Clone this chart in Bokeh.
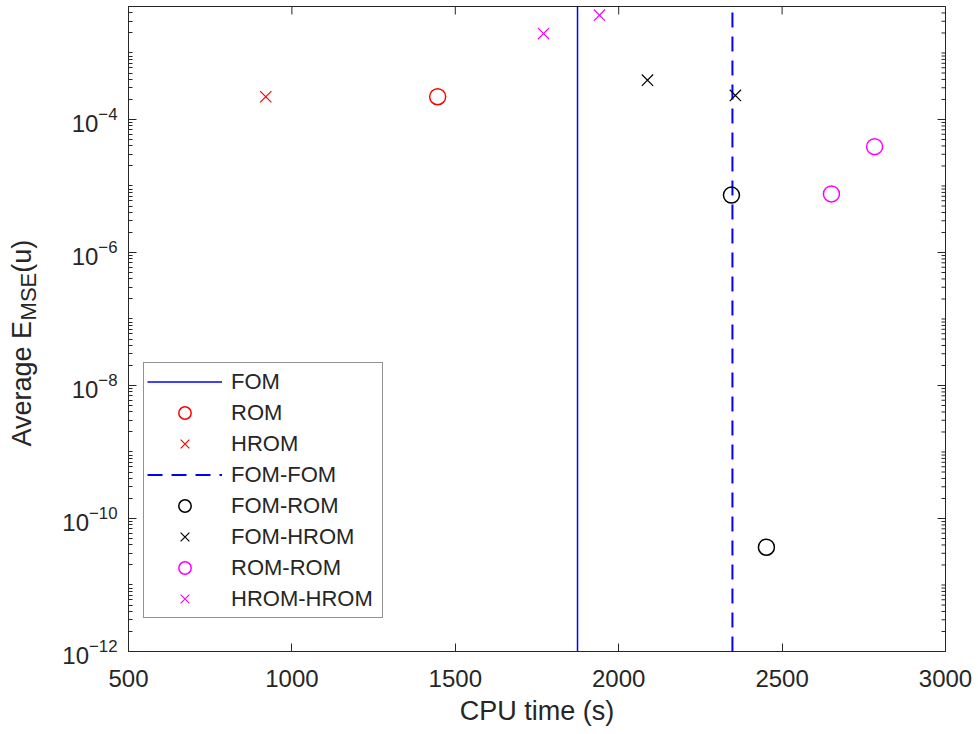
import math

from bokeh.plotting import figure
from bokeh.layouts import row
from bokeh.models import Range1d, FixedTicker, Legend, LegendItem
from bokeh.core.properties import value
from bokeh.embed import file_html
from bokeh.resources import INLINE

# ---- data: CPU time (s) vs. average MSE of u ----
fom_time = [1874]
fom_fom_time = [2348]

rom_time = [1446]
rom_err = [2.2e-4]

hrom_time = [920]
hrom_err = [2.2e-4]

fom_rom_time = [2345, 2452]
fom_rom_err = [7.3e-6, 3.7e-11]

fom_hrom_time = [2088, 2357]
fom_hrom_err = [3.9e-4, 2.3e-4]

rom_rom_time = [2651, 2783]
rom_rom_err = [7.6e-6, 3.9e-5]

hrom_hrom_time = [1770, 1941]
hrom_hrom_err = [1.96e-3, 3.7e-3]

x_ticks = [500, 1000, 1500, 2000, 2500, 3000]
y_major_exponents = [-12, -10, -8, -6, -4]
x_limits = (500, 3000)
y_limits = (1e-12, 5e-3)

ylabel_parts = ["Average E", "MSE", "(u)"]

INK = "#262626"
FONT = "Liberation Sans"
H = 734
TITLE_W = 44

# ---- narrow strip holding the rotated y-axis title (with subscript) ----
t = figure(frame_width=TITLE_W, frame_height=H, title=None,
           x_range=Range1d(0, TITLE_W), y_range=Range1d(0, H),
           output_backend="svg", toolbar_location=None,
           x_axis_location=None, y_axis_location=None,
           min_border=0, min_border_left=0, min_border_right=0,
           min_border_top=0, min_border_bottom=0)
t.grid.visible = False
t.outline_line_color = None
t.background_fill_color = "white"
t.border_fill_color = "white"

part_size = {"Average E": 27, "MSE": 22, "(u)": 27}
part_em = {"Average E": 4.669, "MSE": 2.167, "(u)": 1.222}
part_base = {"Average E": 21, "MSE": 28, "(u)": 21}
pos = H - 440
for txt in ylabel_parts:
    t.text(x=[part_base[txt]], y=[pos], text=[txt], angle=math.pi / 2,
           text_font=value(FONT), text_font_size=f"{part_size[txt]}px",
           text_color=INK, text_align="left", text_baseline="alphabetic")
    pos += part_em[txt] * part_size[txt]

# ---- main axes ----
p = figure(width=978 - TITLE_W, height=H, y_axis_type="log", title=None,
           x_range=Range1d(*x_limits), y_range=Range1d(*y_limits),
           output_backend="svg", toolbar_location=None,
           min_border_left=128 - TITLE_W, min_border_right=33,
           min_border_top=6, min_border_bottom=83)
p.background_fill_color = "white"
p.border_fill_color = "white"
p.outline_line_color = INK
p.outline_line_width = 1
p.xgrid.visible = False
p.ygrid.visible = False

y_major = [10.0 ** e for e in y_major_exponents]
y_minor = [m * 10.0 ** e for e in range(-12, -2) for m in range(1, 10)
           if not (m == 1 and e in y_major_exponents)]


def style_axis(ax):
    ax.axis_line_color = INK
    ax.major_tick_line_color = INK
    ax.minor_tick_line_color = INK
    ax.major_tick_in = 8
    ax.major_tick_out = 0
    ax.minor_tick_in = 4
    ax.minor_tick_out = 0
    ax.major_label_text_color = INK
    ax.major_label_text_font = FONT
    ax.major_label_text_font_size = "24px"


xa = p.xaxis[0]
xa.ticker = FixedTicker(ticks=x_ticks)
style_axis(xa)
xa.major_label_standoff = 18
xa.axis_label = "CPU time (s)"
xa.axis_label_text_font = FONT
xa.axis_label_text_font_size = "27px"
xa.axis_label_text_font_style = "normal"
xa.axis_label_text_color = INK
xa.axis_label_standoff = 6

ya = p.yaxis[0]
ya.ticker = FixedTicker(ticks=y_major, minor_ticks=y_minor)
style_axis(ya)
ya.major_label_standoff = 11

# mirrored inward ticks on the top and right edges of the box
# (dash markers centred on the edge; the half outside the frame is clipped)
n_x = len(x_ticks)
p.scatter(x_ticks, [y_limits[1]] * n_x, marker="dash", angle=math.pi / 2,
          size=16, line_color=INK, line_width=1)
p.scatter([x_limits[1]] * len(y_major), y_major, marker="dash",
          size=16, line_color=INK, line_width=1)
p.scatter([x_limits[1]] * len(y_minor), y_minor, marker="dash",
          size=8, line_color=INK, line_width=1)

# reference lines
y_span = list(y_limits)
r_fom = p.line(fom_time * 2, y_span, line_color="#0000ff", line_width=1.5)
r_fom_fom = p.line(fom_fom_time * 2, y_span, line_color="#0000ff",
                   line_width=2, line_dash="15 9")

# markers
r_rom = p.scatter(rom_time, rom_err, marker="circle", size=16,
                  fill_color=None, line_color="#ff0000", line_width=1.5)
r_hrom = p.scatter(hrom_time, hrom_err, marker="x", size=16,
                   line_color="#ff0000", line_width=1.2)
r_fom_rom = p.scatter(fom_rom_time, fom_rom_err, marker="circle", size=16,
                      fill_color=None, line_color="#000000", line_width=1.5)
r_fom_hrom = p.scatter(fom_hrom_time, fom_hrom_err, marker="x", size=16,
                       line_color="#000000", line_width=1.2)
r_rom_rom = p.scatter(rom_rom_time, rom_rom_err, marker="circle", size=16,
                      fill_color=None, line_color="#ff00ff", line_width=1.5)
r_hrom_hrom = p.scatter(hrom_hrom_time, hrom_hrom_err, marker="x", size=16,
                        line_color="#ff00ff", line_width=1.2)

legend = Legend(items=[
    LegendItem(label="FOM", renderers=[r_fom]),
    LegendItem(label="ROM", renderers=[r_rom]),
    LegendItem(label="HROM", renderers=[r_hrom]),
    LegendItem(label="FOM-FOM", renderers=[r_fom_fom]),
    LegendItem(label="FOM-ROM", renderers=[r_fom_rom]),
    LegendItem(label="FOM-HROM", renderers=[r_fom_hrom]),
    LegendItem(label="ROM-ROM", renderers=[r_rom_rom]),
    LegendItem(label="HROM-HROM", renderers=[r_hrom_hrom]),
], location=(15, 33))
legend.label_text_font = FONT
legend.label_text_font_size = "22px"
legend.label_text_color = INK
legend.glyph_width = 75
legend.glyph_height = 31
legend.label_height = 31
legend.label_width = 148
legend.spacing = 0
legend.padding = 3
legend.margin = 0
legend.label_standoff = 9
legend.border_line_color = INK
legend.border_line_width = 1
legend.background_fill_color = "white"
legend.background_fill_alpha = 1.0
p.add_layout(legend)

layout = row(t, p, spacing=0)
open("out.html", "w").write(file_html(layout, INLINE))
